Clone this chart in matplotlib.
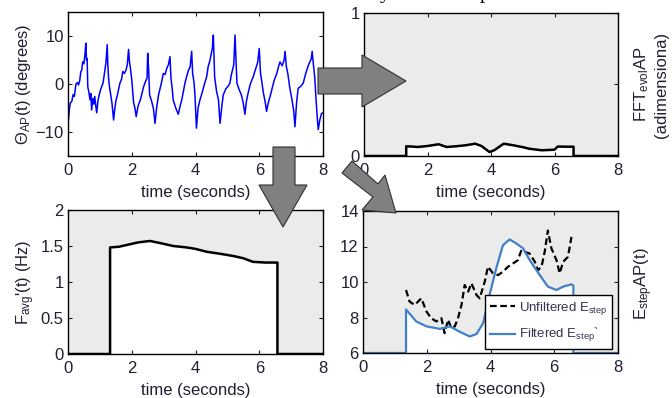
import matplotlib
matplotlib.use("Agg")
import matplotlib.pyplot as plt
from matplotlib.patches import Polygon

plt.rcParams['font.family'] = ['Liberation Sans', 'DejaVu Sans']
plt.rcParams['mathtext.fontset'] = 'custom'
plt.rcParams['mathtext.rm'] = 'Liberation Sans'
plt.rcParams['mathtext.it'] = 'Liberation Sans'

# ---- data ----
theta_t = [0.00, 0.04, 0.07, 0.12, 0.16, 0.20, 0.25, 0.30, 0.33, 0.37, 0.40, 0.43, 0.46, 0.50, 0.53, 0.56,
           0.58, 0.60, 0.62, 0.65, 0.69, 0.72, 0.74, 0.78, 0.81, 0.84, 0.87, 0.90, 0.94, 0.98, 1.03, 1.10,
           1.14, 1.19, 1.23, 1.25, 1.27, 1.30, 1.34, 1.38, 1.43, 1.47, 1.51, 1.56, 1.63, 1.68, 1.72, 1.77,
           1.82, 1.86, 1.90, 1.93, 1.95, 2.00, 2.03, 2.06, 2.10, 2.14, 2.20, 2.27, 2.32, 2.37, 2.43, 2.48,
           2.50, 2.53, 2.56, 2.62, 2.68, 2.73, 2.78, 2.84, 2.89, 2.94, 2.99, 3.05, 3.10, 3.15, 3.20, 3.23,
           3.27, 3.30, 3.38, 3.46, 3.52, 3.57, 3.62, 3.67, 3.72, 3.78, 3.83, 3.88, 3.91, 3.95, 3.98, 4.03,
           4.08, 4.14, 4.20, 4.29, 4.35, 4.40, 4.45, 4.50, 4.53, 4.56, 4.60, 4.66, 4.72, 4.77, 4.82, 4.87,
           4.95, 5.02, 5.08, 5.12, 5.16, 5.20, 5.24, 5.27, 5.30, 5.36, 5.44, 5.50, 5.55, 5.60, 5.65, 5.72,
           5.81, 5.88, 5.95, 6.00, 6.04, 6.08, 6.13, 6.18, 6.23, 6.28, 6.34, 6.40, 6.47, 6.55, 6.60, 6.65,
           6.72, 6.78, 6.81, 6.85, 6.90, 6.96, 7.02, 7.08, 7.12, 7.17, 7.22, 7.30, 7.38, 7.45, 7.53, 7.58,
           7.63, 7.66, 7.70, 7.74, 7.78, 7.82, 7.85, 7.90, 7.95, 8.00]
theta_v = [-8.5, -5.5, -4.0, -3.6, -2.2, -2.6, 0.0, 0.3, -0.2, 0.8, 2.5, 2.9, 4.6, 4.2, 6.0, 8.5,
           5.0, 5.3, -0.6, -1.5, -3.3, -2.0, -5.4, -3.0, -4.2, -2.6, -4.5, -6.0, -3.5, -2.2, -1.0, 0.2,
           2.0, 4.4, 8.2, 4.0, 1.5, -0.5, -2.2, -4.0, -7.5, -5.0, -3.3, -2.0, 0.2, 1.0, 2.6, 2.2,
           2.9, 4.0, 7.2, 4.5, 3.7, 0.9, -1.5, -4.0, -5.0, -6.8, -4.5, -3.3, -2.0, -0.6, 0.5, 1.2,
           6.4, 3.0, -2.3, -3.5, -5.1, -8.2, -5.0, -2.3, -0.9, 0.5, 2.2, 2.0, 3.3, 4.0, 5.7, 1.2,
           -1.0, -3.3, -5.0, -6.3, -4.5, -3.3, -1.5, 0.2, 1.5, 2.9, 3.5, 6.8, 2.2, 0.5, -1.9, -9.2,
           -5.0, -3.3, -2.0, 0.2, 1.5, 3.7, 4.8, 6.5, 7.5, 10.2, 1.5, -1.5, -3.3, -8.2, -5.0, -2.3,
           -1.0, -0.5, 0.2, 1.8, 2.9, 4.0, 10.2, 5.0, 0.2, -1.0, -2.3, -4.0, -6.3, -3.5, -1.9, 0.0,
           1.5, 3.0, 4.5, 7.4, 2.2, 0.5, -1.9, -3.5, -5.7, -4.0, -2.6, -1.0, 0.8, 2.2, 3.5, 4.6,
           3.8, 5.0, 6.8, 3.7, 2.0, -0.9, -3.0, -5.5, -8.9, -4.0, -0.9, -0.5, 0.2, 2.0, 3.7, 4.5,
           5.2, 6.8, 4.0, 1.5, -3.0, -7.0, -9.5, -7.5, -6.2, -6.0]

fft_t = [0, 1.33, 1.33, 1.5, 1.7, 2.0, 2.35, 2.6, 2.9, 3.2, 3.5, 3.7, 3.95, 4.1, 4.4, 4.7,
         5.0, 5.2, 5.6, 6.0, 6.1, 6.4, 6.6, 6.6, 8.0]
fft_v = [0, 0, 0.068, 0.066, 0.063, 0.07, 0.082, 0.063, 0.068, 0.075, 0.086, 0.07, 0.028, 0.04, 0.086, 0.075,
         0.062, 0.051, 0.04, 0.044, 0.066, 0.065, 0.065, 0, 0]

favg_t = [0, 1.32, 1.32, 1.6, 1.9, 2.2, 2.57, 2.9, 3.3, 3.72, 4.0, 4.35, 4.8, 5.2, 5.5, 5.8, 6.2, 6.57, 6.57, 8]
favg_v = [0, 0, 1.48, 1.49, 1.52, 1.55, 1.57, 1.54, 1.50, 1.48, 1.46, 1.42, 1.39, 1.36, 1.33, 1.28, 1.27, 1.27, 0, 0]

filt_t = [0, 1.35, 1.35, 1.67, 1.99, 2.41, 2.72, 3.03, 3.35, 3.56, 3.77, 3.97, 4.18, 4.39, 4.6, 4.81,
          5.02, 5.23, 5.54, 5.8, 6.07, 6.28, 6.54, 6.6, 6.6, 8.0]
filt_v = [6, 6, 8.45, 7.78, 7.5, 7.36, 7.5, 7.2, 6.93, 7.07, 7.68, 9.27, 10.77, 12.07, 12.4, 12.17,
          11.9, 11.23, 10.4, 9.74, 9.55, 9.74, 9.87, 9.8, 6, 6]

raw_t = [1.35, 1.46, 1.62, 1.83, 1.99, 2.14, 2.3, 2.46, 2.56, 2.67, 2.77, 2.88, 2.98, 3.09, 3.19, 3.3,
         3.4, 3.56, 3.66, 3.82, 3.92, 4.08, 4.24, 4.39, 4.55, 4.71, 4.86, 4.97, 5.07, 5.23, 5.39, 5.49,
         5.6, 5.7, 5.8, 5.91, 6.07, 6.17, 6.28, 6.43, 6.54]
raw_v = [9.55, 8.9, 8.71, 9.08, 8.34, 7.96, 7.78, 7.96, 7.12, 7.87, 7.4, 7.5, 7.96, 8.71, 9.83, 9.46,
         9.93, 9.27, 9.08, 10.02, 10.86, 10.49, 10.39, 10.58, 10.86, 11.05, 11.23, 11.8, 11.7, 11.6, 11.14, 10.67,
         10.86, 11.7, 12.9, 11.9, 11.23, 10.49, 11.14, 11.42, 12.54]

W, H = 672, 398
txt = '#202030'
grey = '#ebebeb'

fig = plt.figure(figsize=(W / 100, H / 100), dpi=100)


def px_axes(l, t, r, b):
    return fig.add_axes([l / W, 1 - b / H, (r - l) / W, (b - t) / H])


def style(ax):
    ax.tick_params(direction='in', top=True, right=True, labelsize=12, colors=txt,
                   length=3, width=0.8)
    ax.tick_params(axis='x', pad=5)
    ax.tick_params(axis='y', pad=3)
    for s in ax.spines.values():
        s.set_linewidth(1.0)
    ax.set_xlim(0, 8)
    ax.set_xticks([0, 2, 4, 6, 8])
    ax.set_xlabel('time (seconds)', fontsize=12, color=txt, labelpad=5)


# top left
ax1 = px_axes(68, 12, 323, 156)
ax1.plot(theta_t, theta_v, color='#0000ff', lw=1.1)
ax1.set_ylim(-15, 15)
ax1.set_yticks([-10, 0, 10])
style(ax1)
ax1.text(-0.175, 0.5, r'$\Theta_{AP}$(t) (degrees)', transform=ax1.transAxes, rotation=90,
         ha='center', va='center', fontsize=12, color=txt)

# top right
ax2 = px_axes(364, 13, 618, 156)
ax2.set_facecolor(grey)
ax2.fill_between(fft_t, 0, fft_v, color='white', lw=0)
ax2.plot(fft_t, fft_v, color='black', lw=1.8)
ax2.set_ylim(0, 1)
ax2.set_yticks([0, 0.5, 1])
ax2.set_yticklabels(['0', '0.5', '1'])
style(ax2)
ax2.text(1.13, 0.5, 'FFT$_{evol}$AP\n(adimensiona)', transform=ax2.transAxes, rotation=90,
         ha='center', va='center', fontsize=12, color=txt, linespacing=1.25)

# bottom left
ax3 = px_axes(68, 210, 323, 354)
ax3.set_facecolor(grey)
ax3.fill_between(favg_t, 0, favg_v, color='white', lw=0)
ax3.plot(favg_t, favg_v, color='black', lw=1.8)
ax3.set_ylim(0, 2)
ax3.set_yticks([0, 0.5, 1, 1.5, 2])
ax3.set_yticklabels(['0', '0.5', '1', '1.5', '2'])
style(ax3)
ax3.text(-0.165, 0.5, "F$_{avg}$'(t) (Hz)", transform=ax3.transAxes, rotation=90,
         ha='center', va='center', fontsize=12, color=txt)

# bottom right
ax4 = px_axes(363, 211, 618, 353)
ax4.set_facecolor(grey)
ax4.fill_between(filt_t, 6, filt_v, color='white', lw=0)
ax4.plot(raw_t, raw_v, color='black', lw=1.6, linestyle=(0, (3, 1.6)), label='Unfiltered E$_{step}$')
ax4.plot(filt_t, filt_v, color='#4080c8', lw=1.6, label='Filtered E$_{step}$`')
ax4.set_ylim(6, 14)
ax4.set_yticks([6, 8, 10, 12, 14])
style(ax4)
ax4.text(1.1, 0.49, 'E$_{step}$AP(t)', transform=ax4.transAxes, rotation=90,
         ha='center', va='center', fontsize=12, color=txt)
leg = ax4.legend(loc='lower right', bbox_to_anchor=(0.976, 0.028), fontsize=9.5, frameon=True,
                 fancybox=False, framealpha=1, edgecolor='black', handlelength=1.9,
                 borderpad=0.35, labelspacing=0.75, handletextpad=0.3, borderaxespad=0)
leg.get_frame().set_linewidth(1.0)
for t in leg.get_texts():
    t.set_color('#3a3050')

# grey arrows (pixel coordinates, y downward)
arrows = [
    [(318, 68), (362, 68), (362, 55), (406, 81), (362, 107), (362, 94), (318, 94)],
    [(273, 147), (295, 147), (295, 185), (307, 185), (283, 227), (259, 185), (273, 185)],
    [(342, 173), (352, 161), (378, 184), (385, 175), (396, 213), (362, 210), (373, 197)],
]
for pts in arrows:
    fig.patches.append(Polygon([(x / W, 1 - y / H) for x, y in pts], closed=True,
                               transform=fig.transFigure, facecolor='#808080',
                               edgecolor='#303030', lw=0.8, zorder=5))

# caption fragment cut off at top of the picture (only the descenders show)
fig.text(380 / W, 1.0 + 2 / H, 'y', fontsize=15, family='Liberation Serif', va='baseline', color='black')
fig.text(480 / W, 1.0 + 2 / H, 'p', fontsize=15, family='Liberation Serif', va='baseline', color='black')

fig.savefig('out.png', dpi=100)
